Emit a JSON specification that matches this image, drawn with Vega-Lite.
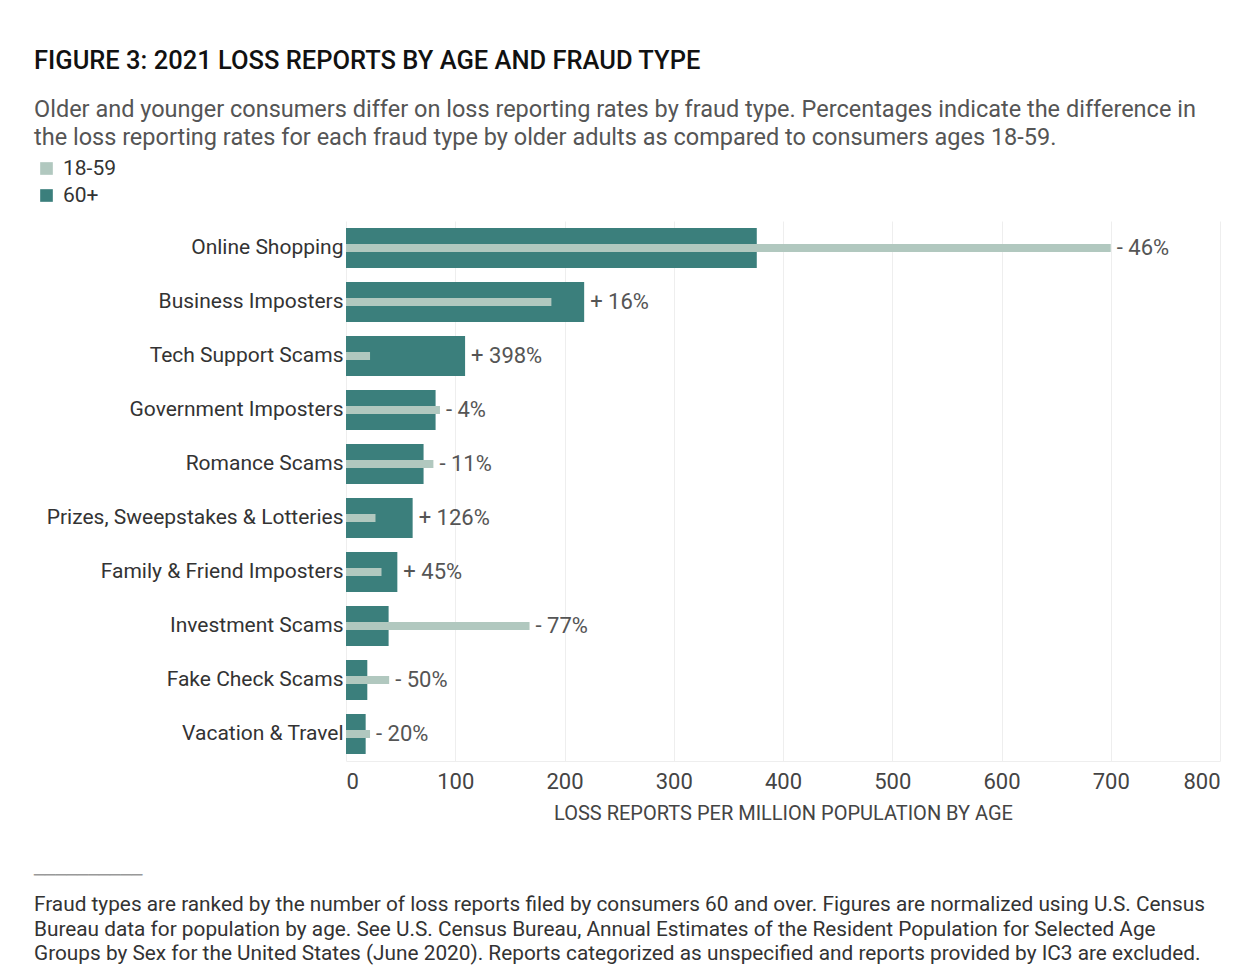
{
  "$schema": "https://vega.github.io/schema/vega-lite/v6.json",
  "padding": {"left": 34, "top": 49, "right": 5, "bottom": 5},
  "background": "white",
  "config": {
    "font": "Roboto",
    "view": {"stroke": null}
  },
  "title": {
    "text": "──────────",
    "subtitle": [
      "Fraud types are ranked by the number of loss reports filed by consumers 60 and over. Figures are normalized using U.S. Census",
      "Bureau data for population by age. See U.S. Census Bureau, Annual Estimates of the Resident Population for Selected Age",
      "Groups by Sex for the United States (June 2020). Reports categorized as unspecified and reports provided by IC3 are excluded."
    ],
    "orient": "bottom",
    "anchor": "start",
    "frame": "bounds",
    "font": "DejaVu Sans",
    "fontSize": 18,
    "fontWeight": "normal",
    "color": "#999999",
    "subtitleFont": "Roboto",
    "subtitleFontSize": 20.8,
    "subtitleColor": "#333333",
    "subtitleLineHeight": 24.5,
    "subtitlePadding": 10,
    "offset": 44,
    "limit": 0
  },
  "datasets": {
    "loss": [
      {"fraud": "Online Shopping", "age": "18-59", "value": 700, "diff": "- 46%"},
      {"fraud": "Online Shopping", "age": "60+", "value": 376, "diff": "- 46%"},
      {"fraud": "Business Imposters", "age": "18-59", "value": 188, "diff": "+ 16%"},
      {"fraud": "Business Imposters", "age": "60+", "value": 218, "diff": "+ 16%"},
      {"fraud": "Tech Support Scams", "age": "18-59", "value": 22, "diff": "+ 398%"},
      {"fraud": "Tech Support Scams", "age": "60+", "value": 109, "diff": "+ 398%"},
      {"fraud": "Government Imposters", "age": "18-59", "value": 86, "diff": "- 4%"},
      {"fraud": "Government Imposters", "age": "60+", "value": 82, "diff": "- 4%"},
      {"fraud": "Romance Scams", "age": "18-59", "value": 80, "diff": "- 11%"},
      {"fraud": "Romance Scams", "age": "60+", "value": 71, "diff": "- 11%"},
      {"fraud": "Prizes, Sweepstakes & Lotteries", "age": "18-59", "value": 27, "diff": "+ 126%"},
      {"fraud": "Prizes, Sweepstakes & Lotteries", "age": "60+", "value": 61, "diff": "+ 126%"},
      {"fraud": "Family & Friend Imposters", "age": "18-59", "value": 32.5, "diff": "+ 45%"},
      {"fraud": "Family & Friend Imposters", "age": "60+", "value": 47, "diff": "+ 45%"},
      {"fraud": "Investment Scams", "age": "18-59", "value": 168, "diff": "- 77%"},
      {"fraud": "Investment Scams", "age": "60+", "value": 39, "diff": "- 77%"},
      {"fraud": "Fake Check Scams", "age": "18-59", "value": 39.5, "diff": "- 50%"},
      {"fraud": "Fake Check Scams", "age": "60+", "value": 19.5, "diff": "- 50%"},
      {"fraud": "Vacation & Travel", "age": "18-59", "value": 22, "diff": "- 20%"},
      {"fraud": "Vacation & Travel", "age": "60+", "value": 18, "diff": "- 20%"}
    ]
  },
  "vconcat": [
    {
      "width": 874,
      "height": 540,
      "title": {
        "text": "FIGURE 3: 2021 LOSS REPORTS BY AGE AND FRAUD TYPE",
        "subtitle": [
          "Older and younger consumers differ on loss reporting rates by fraud type. Percentages indicate the difference in",
          "the loss reporting rates for each fraud type by older adults as compared to consumers ages 18-59."
        ],
        "anchor": "start",
        "frame": "group",
        "dx": -312,
        "font": "Roboto",
        "fontSize": 25.5,
        "fontWeight": 500,
        "color": "#111111",
        "subtitleFont": "Roboto",
        "subtitleFontSize": 23.5,
        "subtitleColor": "#555555",
        "subtitleLineHeight": 28,
        "subtitlePadding": 23,
        "offset": 72
      },
      "data": {"name": "loss"},
      "encoding": {
        "y": {
          "field": "fraud",
          "type": "nominal",
          "sort": ["Online Shopping", "Business Imposters", "Tech Support Scams", "Government Imposters", "Romance Scams", "Prizes, Sweepstakes & Lotteries", "Family & Friend Imposters", "Investment Scams", "Fake Check Scams", "Vacation & Travel"],
          "scale": {"paddingInner": 0.26, "paddingOuter": 0.13},
          "axis": {
            "title": null,
            "ticks": false,
            "domain": false,
            "labelFont": "Roboto",
            "labelFontSize": 21,
            "labelColor": "#333333",
            "labelPadding": 3,
            "labelLimit": 400
          }
        }
      },
      "layer": [
        {
          "transform": [{"filter": "datum.age === '60+'"}],
          "mark": {"type": "bar"},
          "encoding": {
            "x": {
              "field": "value",
              "type": "quantitative",
              "scale": {"domain": [0, 800]},
              "axis": {
                "title": "LOSS REPORTS PER MILLION POPULATION BY AGE",
                "values": [0, 100, 200, 300, 400, 500, 600, 700, 800],
                "labelFlush": true,
                "ticks": false,
                "domain": true,
                "domainColor": "#eeeeee",
                "grid": true,
                "gridColor": "#eeeeee",
                "labelFont": "Roboto",
                "labelFontSize": 22,
                "labelColor": "#444444",
                "labelPadding": 10,
                "titleFont": "Roboto",
                "titleFontSize": 20,
                "titleFontWeight": "normal",
                "titleColor": "#444444",
                "titlePadding": 11
              }
            },
            "color": {
              "field": "age",
              "type": "nominal",
              "scale": {"domain": ["18-59", "60+"], "range": ["#b1c8bf", "#3b7f7c"]},
              "legend": {
                "title": null,
                "orient": "none",
                "legendX": -310,
                "legendY": -63,
                "symbolType": "square",
                "symbolSize": 160,
                "symbolStrokeWidth": 0,
                "labelFont": "Roboto",
                "labelFontSize": 21,
                "labelColor": "#333333",
                "rowPadding": 5,
                "labelOffset": 6
              }
            }
          }
        },
        {
          "transform": [{"filter": "datum.age === '18-59'"}],
          "mark": {"type": "bar", "size": 8},
          "encoding": {
            "x": {"field": "value", "type": "quantitative"},
            "color": {"field": "age", "type": "nominal"}
          }
        },
        {
          "transform": [
            {"joinaggregate": [{"op": "max", "field": "value", "as": "maxv"}], "groupby": ["fraud"]},
            {"filter": "datum.age === '60+'"}
          ],
          "mark": {"type": "text", "align": "left", "baseline": "middle", "dx": 6, "font": "Roboto", "fontSize": 22, "color": "#555555"},
          "encoding": {
            "x": {"field": "maxv", "type": "quantitative"},
            "text": {"field": "diff", "type": "nominal"}
          }
        }
      ]
    }
  ]
}
